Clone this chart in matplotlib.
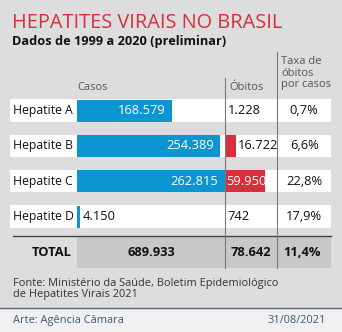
import matplotlib.pyplot as plt
from matplotlib.patches import Rectangle

plt.rcParams['font.family'] = ['Open Sans', 'DejaVu Sans']

# dados
categorias = ['Hepatite A', 'Hepatite B', 'Hepatite C', 'Hepatite D']
casos = [168579, 254389, 262815, 4150]
obitos = [1228, 16722, 59950, 742]
taxas = ['0,7%', '6,6%', '22,8%', '17,9%']
total_casos = 689933
total_obitos = 78642
total_taxa = '11,4%'

BG = '#DDDDDE'
AZUL = '#0B96D2'
VERMELHO = '#D6303C'
FS_NUM = 9.3


def fmt(v):
    return f'{v:,}'.replace(',', '.')


fig = plt.figure(figsize=(3.42, 3.32), dpi=100, facecolor=BG)
ax = fig.add_axes([0, 0, 1, 1])
ax.set_xlim(0, 342)
ax.set_ylim(332, 0)
ax.axis('off')

# faixa do rodape
ax.add_patch(Rectangle((0, 307.5), 342, 30, facecolor='#F1F1F1', edgecolor='none'))
ax.plot([0, 342], [307.5, 307.5], color='#56687A', lw=1)

# titulo
ax.text(12, 28.5, 'HEPATITES VIRAIS NO BRASIL', color='#D62E3D', fontsize=14.3,
        va='baseline', ha='left')
ax.text(12, 44.5, 'Dados de 1999 a 2020 (preliminar)', color='#111111', fontsize=9.2,
        fontweight='bold', va='baseline', ha='left')

# cabecalhos
ax.text(93, 88, 'Casos', color='#555555', fontsize=8, ha='center', va='center')
ax.text(229, 88, 'Óbitos', color='#555555', fontsize=8, ha='left', va='center')
ax.text(281, 73, 'Taxa de\nóbitos\npor casos', color='#555555', fontsize=8, ha='left',
        va='center', linespacing=1.05)

# linhas
x0, x_ob, x_tx, x1 = 77.3, 224.5, 277.3, 331
y_first, passo, alt = 110.6, 35.3, 22.5
esc_casos = 147.2 / 262815
esc_obitos = 40.0 / 59950

for i, (cat, c, o, t) in enumerate(zip(categorias, casos, obitos, taxas)):
    yc = y_first + i * passo
    ax.add_patch(Rectangle((10, yc - alt / 2), x1 - 10, alt, facecolor='white',
                           edgecolor='none', zorder=1))
    ax.text(13, yc, cat, fontsize=8.8, color='#111111', ha='left', va='center', zorder=4)

    wc = c * esc_casos
    ax.barh(yc, wc, left=x0, height=alt - 0.5, color=AZUL, zorder=2)
    if wc > 50:
        ax.text(x0 + wc - 6, yc, fmt(c), fontsize=FS_NUM, color='white', ha='right',
                va='center', zorder=4)
    else:
        ax.text(x0 + wc + 3, yc, fmt(c), fontsize=FS_NUM, color='#111111', ha='left',
                va='center', zorder=4)

    wo = o * esc_obitos
    ax.barh(yc, wo, left=x_ob + 0.5, height=alt - 0.5, color=VERMELHO, zorder=2)
    if wo > 30:
        ax.text(x_ob + 1.5, yc, fmt(o), fontsize=FS_NUM, color='white', ha='left',
                va='center', zorder=4)
    else:
        ax.text(max(x_ob + 3, x_ob + wo + 2), yc, fmt(o), fontsize=FS_NUM,
                color='#111111', ha='left', va='center', zorder=4)

    ax.text((x_tx + x1) / 2, yc, t, fontsize=FS_NUM, color='#111111', ha='center',
            va='center', zorder=4)

# total
yt0, yt1 = 236, 268
ax.add_patch(Rectangle((x0, yt0), x1 - x0, yt1 - yt0, facecolor='#C8C8C8',
                       edgecolor='none', zorder=1))
ax.plot([13, x1], [yt0, yt0], color='#444444', lw=1, zorder=3)
ytc = (yt0 + yt1) / 2
ax.text(51.5, ytc, 'TOTAL', fontsize=FS_NUM, fontweight='bold', color='#111111',
        ha='center', va='center')
ax.text((x0 + x_ob) / 2, ytc, fmt(total_casos), fontsize=FS_NUM, fontweight='bold',
        color='#111111', ha='center', va='center')
ax.text((x_ob + x_tx) / 2, ytc, fmt(total_obitos), fontsize=FS_NUM, fontweight='bold',
        color='#111111', ha='center', va='center')
ax.text((x_tx + x1) / 2 - 2, ytc, total_taxa, fontsize=FS_NUM, fontweight='bold',
        color='#111111', ha='center', va='center')

# divisores verticais
ax.plot([x_ob, x_ob], [78, yt1], color='#7A7A7A', lw=0.8, zorder=3)
ax.plot([x_tx, x_tx], [52, yt1], color='#7A7A7A', lw=0.8, zorder=3)

# fonte e rodape
ax.text(13, 289, 'Fonte: Ministério da Saúde, Boletim Epidemiológico\nde Hepatites Virais 2021',
        fontsize=7.9, color='#333333', ha='left', va='center', linespacing=1.1)
ax.text(13, 320.5, 'Arte: Agência Câmara', fontsize=7.9, color='#3A5A7A', ha='left',
        va='center')
ax.text(326, 320.5, '31/08/2021', fontsize=7.9, color='#3A5A7A', ha='right', va='center')

fig.savefig('out.png', dpi=100, facecolor=BG)
